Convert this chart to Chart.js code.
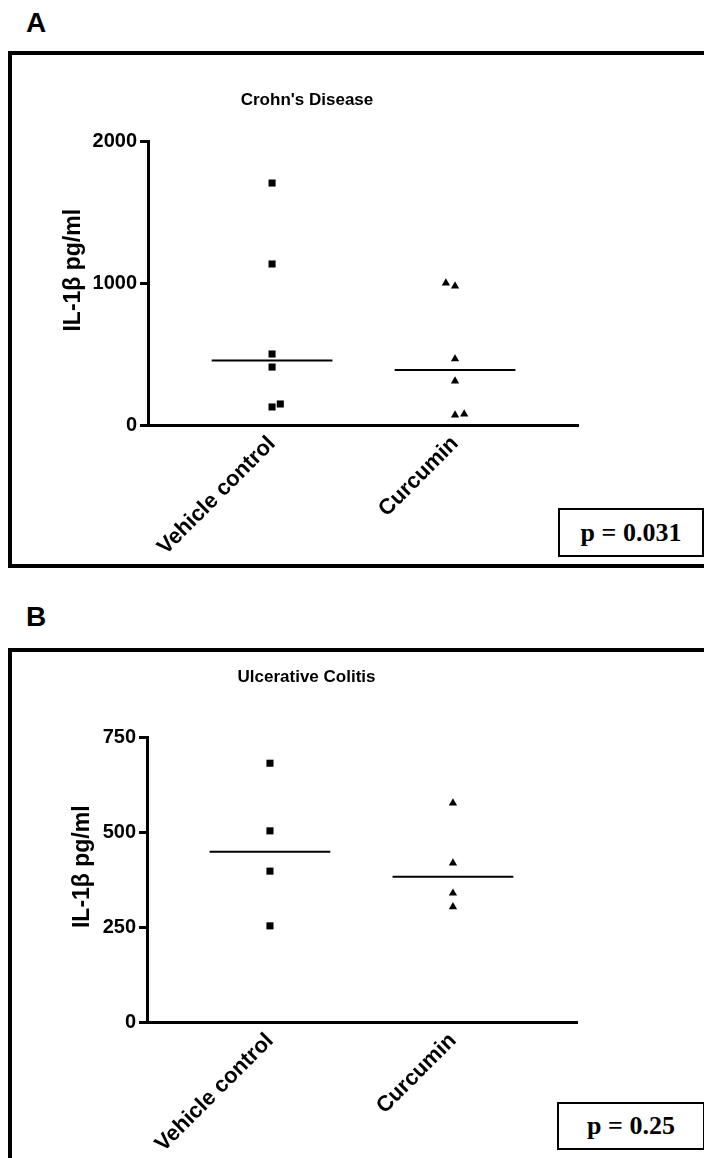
<!DOCTYPE html>
<html>
<head>
<meta charset="utf-8">
<script src="https://cdn.jsdelivr.net/npm/chart.js@4.4.1/dist/chart.umd.min.js"></script>
<style>
  html, body { margin: 0; padding: 0; background: #fff; }
  body { width: 704px; height: 1158px; position: relative; overflow: hidden; font-family: 'Liberation Sans', Arial, sans-serif; }
  .panel { position: absolute; border: 4px solid #000; box-sizing: border-box; }
  .letter { position: absolute; font-weight: bold; font-size: 28px; line-height: 1; color: #000; }
  .pbox { position: absolute; border: 2px solid #000; box-sizing: border-box; background: #fff;
          font-family: 'Liberation Serif', 'Times New Roman', serif; font-weight: bold; font-size: 26px;
          display: flex; align-items: center; justify-content: center; }
  canvas { position: absolute; }
</style>
</head>
<body>
<div class="letter" style="left:26px; top:9px;">A</div>
<div class="panel" style="left:8px; top:51px; width:720px; height:517px;"></div>
<canvas id="chartA" width="692" height="510" style="left:12px; top:55px; width:692px; height:510px;"></canvas>
<div class="pbox" style="left:558px; top:508px; width:146px; height:49px;">p = 0.031</div>

<div class="letter" style="left:26px; top:603px;">B</div>
<div class="panel" style="left:8px; top:648px; width:720px; height:600px;"></div>
<canvas id="chartB" width="692" height="506" style="left:12px; top:652px; width:692px; height:506px;"></canvas>
<div class="pbox" style="left:557px; top:1102px; width:148px; height:48px;">p = 0.25</div>

<script>
// ---- data ----
const categories = ['Vehicle control', 'Curcumin'];

const titleA = "Crohn's Disease";
const vehicleA = [1704, 1134, 500, 408, 127, 148];
const vehicleJitterA = [0, 0, 0, 0, 0, 0.045];
const curcuminA = [1000, 979, 465, 310, 70, 77];
const curcuminJitterA = [-0.05, 0, 0, 0, 0, 0.05];
const medianA = [454, 387];
const yTicksA = [0, 1000, 2000];

const titleB = 'Ulcerative Colitis';
const vehicleB = [681, 503, 397, 253];
const vehicleJitterB = [0, 0, 0, 0];
const curcuminB = [576, 418, 339, 303];
const curcuminJitterB = [0, 0, 0, 0];
const medianB = [448, 382];
const yTicksB = [0, 250, 500, 750];

const yTitle = '    IL-1\u03B2 pg/ml';

// ---- chart builder ----
const FONT = "'Liberation Sans', Arial, sans-serif";

function pts(cat, vals, jit) {
  return vals.map((v, i) => ({ x: cat + jit[i], y: v }));
}
function medLine(cat, m) {
  return [{ x: cat - 0.33, y: m }, { x: cat + 0.33, y: m }];
}

function build(id, o) {
  const datasets = [
    { type: 'scatter', data: pts(1, o.veh, o.vehJ), pointStyle: 'rect', pointRadius: 5,
      backgroundColor: '#000', borderColor: '#000', borderWidth: 0 },
    { type: 'scatter', data: pts(2, o.cur, o.curJ), pointStyle: 'triangle', pointRadius: 4.8,
      backgroundColor: '#000', borderColor: '#000', borderWidth: 0 },
    { type: 'line', data: medLine(1, o.med[0]), borderColor: '#000', borderWidth: 2, pointRadius: 0, fill: false },
    { type: 'line', data: medLine(2, o.med[1]), borderColor: '#000', borderWidth: 2, pointRadius: 0, fill: false }
  ];
  return new Chart(document.getElementById(id), {
    type: 'scatter',
    data: { datasets },
    options: {
      responsive: false,
      animation: false,
      layout: { padding: { left: 24, right: o.padRight, top: 0, bottom: 0 } },
      plugins: {
        legend: { display: false },
        tooltip: { enabled: false },
        title: {
          display: true, text: o.title, color: '#000',
          font: { family: FONT, size: 17, weight: 'bold' },
          padding: { top: o.titleTop, bottom: o.titleBottom }
        }
      },
      scales: {
        x: {
          type: 'linear', min: o.xmin, max: o.xmax,
          afterBuildTicks: s => { s.ticks = [{ value: 1 }, { value: 2 }]; },
          afterFit: s => { s.height = o.xHeight; },
          grid: { display: false, drawTicks: false },
          border: { display: true, color: '#000', width: 3 },
          ticks: {
            autoSkip: false, minRotation: 45, maxRotation: 45, padding: 6, color: '#000',
            font: { family: FONT, size: 22, weight: 'bold' },
            callback: v => categories[Math.round(v) - 1]
          }
        },
        y: {
          type: 'linear', min: o.yTicks[0], max: o.yTicks[o.yTicks.length - 1],
          afterBuildTicks: s => { s.ticks = o.yTicks.map(v => ({ value: v })); },
          afterFit: s => { s.width = o.yWidth; },
          grid: { display: true, drawOnChartArea: false, drawTicks: true, tickLength: 8,
                  tickWidth: 3, tickColor: '#000', color: '#000' },
          border: { display: true, color: '#000', width: 3 },
          ticks: { padding: 3, color: '#000', font: { family: FONT, size: 20, weight: 'bold' },
                   callback: v => String(v) },
          title: {
            display: true, text: yTitle, color: '#000',
            font: { family: FONT, size: 23, weight: 'bold' },
            padding: { top: o.yTitlePad, bottom: 0 }
          }
        }
      }
    }
  });
}

build('chartA', {
  title: titleA, veh: vehicleA, vehJ: vehicleJitterA, cur: curcuminA, curJ: curcuminJitterA,
  med: medianA, yTicks: yTicksA, xmin: 0.322, xmax: 2.672,
  yWidth: 112, padRight: 126, xHeight: 140, titleTop: 35, titleBottom: 30.6, yTitlePad: 24
});
build('chartB', {
  title: titleB, veh: vehicleB, vehJ: vehicleJitterB, cur: curcuminB, curJ: curcuminJitterB,
  med: medianB, yTicks: yTicksB, xmin: 0.328, xmax: 2.678,
  yWidth: 111, padRight: 127, xHeight: 136, titleTop: 15, titleBottom: 49.6, yTitlePad: 33
});
</script>
</body>
</html>
